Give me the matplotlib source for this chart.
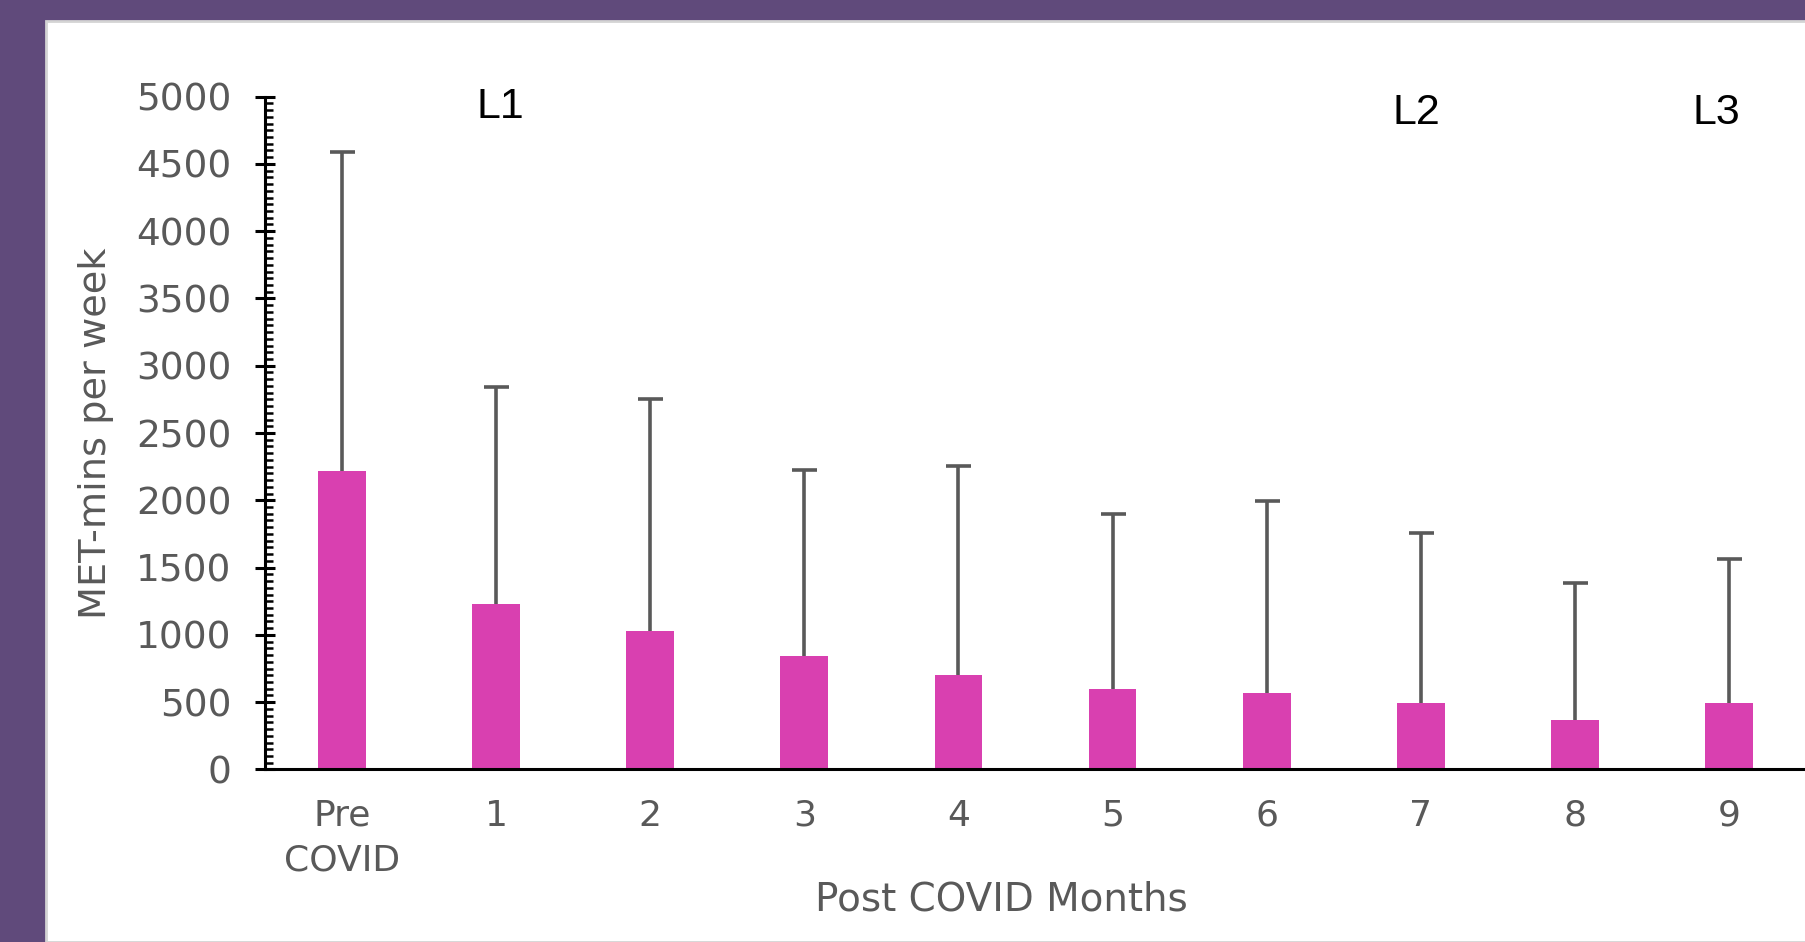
import numpy as np
import matplotlib
matplotlib.use("Agg")
import matplotlib.pyplot as plt
import matplotlib.patches
from matplotlib.ticker import MultipleLocator

# data
categories = ["Pre\nCOVID", "1", "2", "3", "4", "5", "6", "7", "8", "9"]
means = [2215, 1230, 1030, 845, 705, 595, 565, 490, 370, 490]
upper = [4590, 2845, 2755, 2225, 2255, 1900, 1995, 1760, 1385, 1565]
phase_labels = ["L1", "L2", "L3"]
phase_x = [1.03, 6.97, 8.92]
phase_y = [4925, 4880, 4880]

purple = "#604a7b"
bar_color = "#d940b0"
grey = "#595959"

fig = plt.figure(figsize=(18.06, 9.42), dpi=100, facecolor=purple)

# white card on the purple background
card = matplotlib.patches.Rectangle((46/1806, 0), 1, 1 - 21/942, transform=fig.transFigure,
                                    facecolor="white", edgecolor="#d4d4d4", linewidth=2, zorder=-10)
fig.add_artist(card)

ax = fig.add_axes([0.1467, 0.1832, 0.8533, 0.7142])
ax.set_facecolor("none")

x = np.arange(len(categories))
err = np.array(upper) - np.array(means)
ax.bar(x, means, width=0.31, color=bar_color, zorder=2)
eb = ax.errorbar(x, means, yerr=[np.zeros_like(err), err], fmt="none", ecolor=grey,
                 elinewidth=2.6, capsize=9, capthick=2.6, zorder=1)
# only the upper cap is drawn in the original
eb[1][0].set_visible(False)

ax.set_xlim(-0.5, 9.5)
ax.set_ylim(0, 5000)

for s in ["top", "right"]:
    ax.spines[s].set_visible(False)
ax.spines["left"].set_linewidth(2.2)
ax.spines["bottom"].set_linewidth(2.2)
ax.spines["left"].set_color("black")
ax.spines["bottom"].set_color("black")

ax.yaxis.set_major_locator(MultipleLocator(500))
ax.yaxis.set_minor_locator(MultipleLocator(50))
ax.tick_params(axis="y", which="major", direction="inout", length=14, width=2.2,
               color="black", labelsize=27, labelcolor=grey, pad=17)
ax.tick_params(axis="y", which="minor", direction="in", length=6, width=1.8, color="black")

ax.set_xticks(x)
ax.set_xticklabels(categories, linespacing=1.4)
ax.tick_params(axis="x", length=0, labelsize=26, labelcolor=grey, pad=21)

ax.set_xlabel("Post COVID Months", fontsize=28, color=grey)
ax.xaxis.set_label_coords(0.478, -0.165)
ax.set_ylabel("MET-mins per week", fontsize=27.5, color=grey)
ax.yaxis.set_label_coords(-0.098, 0.5)

for lab, px, py in zip(phase_labels, phase_x, phase_y):
    ax.text(px, py, lab, ha="center", va="center", fontsize=31, color="black",
            family="Liberation Sans", clip_on=False)

fig.savefig("out.png", dpi=100, facecolor=purple)
